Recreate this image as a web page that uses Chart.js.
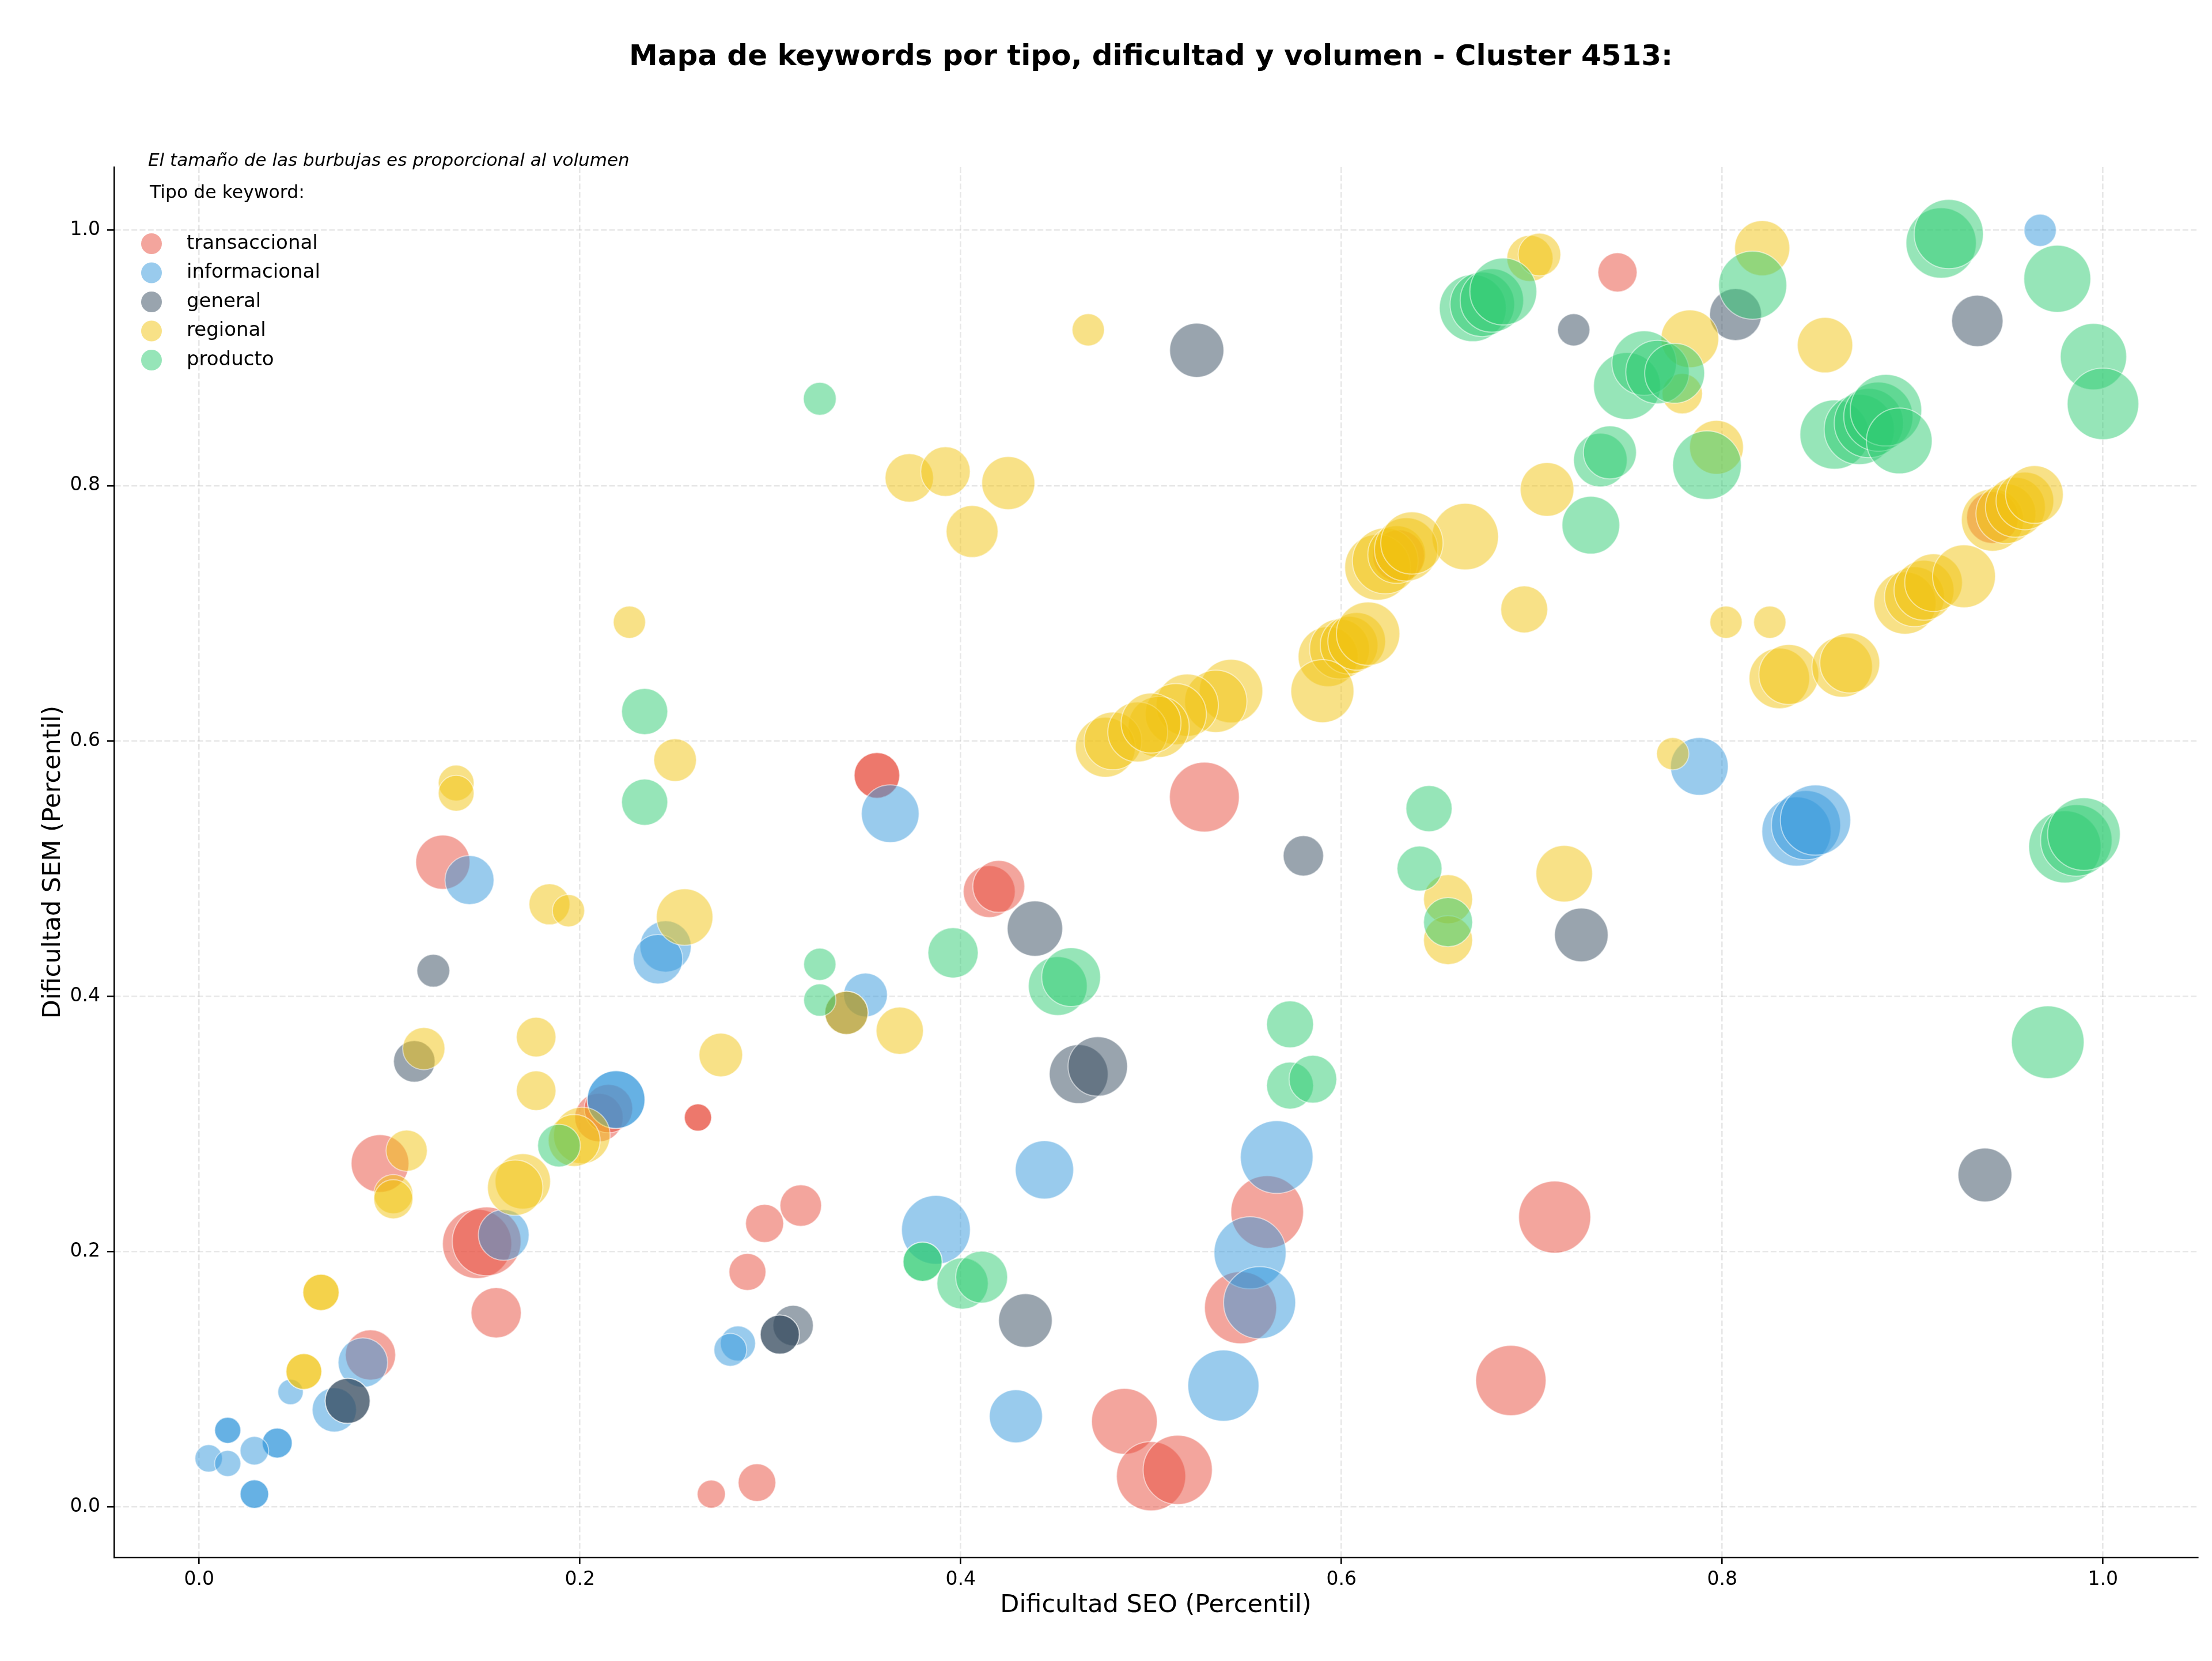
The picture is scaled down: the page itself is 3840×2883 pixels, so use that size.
<!DOCTYPE html>
<html>
<head>
<meta charset="utf-8">
<script src="https://cdn.jsdelivr.net/npm/chart.js@4.4.0/dist/chart.umd.min.js"></script>
<style>
  html, body { margin: 0; padding: 0; background: #fff; }
</style>
</head>
<body>
<canvas id="mapa" width="3840" height="2883"></canvas>
<script>
// Datos: dificultad SEO (x), dificultad SEM (y), volumen (tamano)
const tipos = ['transaccional', 'informacional', 'general', 'regional', 'producto'];
const ticksVal = [0, 0.2, 0.4, 0.6, 0.8, 1.0];

const transSeo = [0.745,0.128,0.095,0.090,0.146,0.151,0.156,0.210,0.215,0.262, 0.262,0.297,0.316,0.288,0.269,0.293,0.356,0.356,0.415,0.420, 0.528,0.561,0.547,0.486,0.500,0.514,0.712,0.689,0.630,0.942];
const transSem = [0.967,0.505,0.269,0.119,0.206,0.208,0.152,0.305,0.312,0.305, 0.305,0.222,0.236,0.184,0.010,0.019,0.573,0.573,0.482,0.486, 0.556,0.231,0.156,0.067,0.024,0.029,0.227,0.099,0.745,0.775];
const transVol = [128,245,278,211,400,395,211,196,196,62, 62,121,144,114,66,118,174,174,225,225, 407,441,434,361,400,400,434,413,225,225];

const infoSeo = [0.967,0.142,0.363,0.788,0.839,0.844,0.849,0.245,0.241,0.350, 0.219,0.219,0.160,0.086,0.048,0.071,0.015,0.015,0.041,0.041, 0.029,0.005,0.015,0.029,0.029,0.283,0.279,0.444,0.387,0.429, 0.566,0.552,0.557,0.538];
const infoSem = [1.000,0.491,0.543,0.580,0.529,0.534,0.538,0.439,0.429,0.401, 0.319,0.319,0.213,0.113,0.090,0.076,0.060,0.060,0.050,0.050, 0.044,0.038,0.034,0.010,0.010,0.128,0.123,0.264,0.217,0.071, 0.274,0.199,0.160,0.095];
const infoVol = [87,201,278,278,400,400,413,220,205,160, 278,278,215,205,54,164,57,57,75,75, 68,63,57,68,68,103,90,284,395,235, 441,434,434,423];

const genSeo = [0.524,0.722,0.807,0.934,0.123,0.113,0.078,0.078,0.340,0.439, 0.462,0.472,0.434,0.312,0.305,0.305,0.580,0.726,0.938];
const genSem = [0.906,0.922,0.934,0.929,0.420,0.349,0.083,0.083,0.387,0.453, 0.339,0.345,0.146,0.142,0.135,0.135,0.510,0.448,0.260];
const genVol = [245,87,225,221,90,144,169,169,156,256, 289,295,240,136,128,128,136,240,242];

const regSeo = [0.226,0.135,0.135,0.467,0.373,0.392,0.425,0.406,0.250,0.699, 0.704,0.783,0.779,0.797,0.708,0.665,0.696,0.619,0.623,0.629, 0.634,0.637,0.593,0.599,0.604,0.608,0.614,0.590,0.542,0.534, 0.519,0.513,0.504,0.476,0.480,0.493,0.500,0.717,0.656,0.656, 0.774,0.821,0.854,0.942,0.949,0.954,0.959,0.964,0.896,0.901, 0.906,0.911,0.927,0.802,0.825,0.830,0.835,0.863,0.867,0.184, 0.194,0.118,0.177,0.177,0.109,0.102,0.102,0.201,0.197,0.170, 0.166,0.064,0.064,0.055,0.055,0.255,0.368,0.274,0.340];
const regSem = [0.693,0.567,0.559,0.922,0.806,0.811,0.802,0.764,0.585,0.978, 0.981,0.915,0.872,0.830,0.797,0.760,0.703,0.736,0.741,0.746, 0.750,0.755,0.666,0.672,0.675,0.678,0.684,0.639,0.639,0.631, 0.628,0.621,0.611,0.595,0.600,0.607,0.614,0.496,0.476,0.444, 0.590,0.986,0.910,0.773,0.778,0.783,0.788,0.793,0.708,0.713, 0.718,0.724,0.729,0.693,0.693,0.649,0.652,0.658,0.661,0.472, 0.467,0.359,0.368,0.326,0.279,0.245,0.241,0.291,0.287,0.255, 0.250,0.168,0.168,0.106,0.106,0.462,0.373,0.354,0.387];
const regVol = [87,107,107,87,196,205,235,225,152,178, 152,278,136,242,240,369,184,361,361,278, 336,324,300,300,278,278,336,332,336,324, 324,312,312,300,278,300,300,267,201,201, 87,254,256,324,300,300,278,278,324,300, 300,278,330,87,87,306,300,306,300,140, 87,149,131,131,142,128,128,267,225,256, 256,110,110,107,107,267,187,159,156];

const prodSeo = [0.234,0.234,0.326,0.669,0.674,0.679,0.685,0.750,0.759,0.766, 0.775,0.736,0.741,0.792,0.731,0.646,0.641,0.656,0.573,0.573, 0.585,0.816,0.915,0.919,0.976,0.995,1.000,0.859,0.872,0.877, 0.882,0.886,0.893,0.980,0.986,0.990,0.971,0.326,0.326,0.396, 0.451,0.458,0.380,0.380,0.401,0.411,0.189];
const prodSem = [0.623,0.552,0.868,0.939,0.942,0.945,0.952,0.878,0.896,0.889, 0.888,0.820,0.826,0.816,0.769,0.547,0.500,0.458,0.378,0.330, 0.335,0.957,0.990,0.997,0.962,0.901,0.864,0.840,0.844,0.849, 0.854,0.859,0.835,0.517,0.522,0.527,0.364,0.425,0.397,0.434, 0.408,0.415,0.192,0.192,0.175,0.180,0.283];
const prodVol = [178,178,90,374,348,336,374,374,348,336, 300,240,235,393,278,178,169,201,184,184, 190,387,413,400,374,367,427,400,413,400, 400,427,361,437,427,441,441,87,87,211, 289,289,128,128,220,225,152];

const titulo = 'Mapa de keywords por tipo, dificultad y volumen - Cluster 4513:';
const nota = 'El tamaño de las burbujas es proporcional al volumen';

const colores = ['rgba(231,76,60,0.5)', 'rgba(52,152,219,0.5)', 'rgba(52,73,94,0.5)', 'rgba(241,196,15,0.5)', 'rgba(46,204,113,0.5)'];
const fuente = 'DejaVu Sans';

// radio en px ~ raiz del volumen (area proporcional al volumen)
function puntos(seo, sem, vol) {
  return seo.map((x, i) => ({ x: x, y: sem[i], r: 3 * Math.sqrt(vol[i]) }));
}

const series = [
  puntos(transSeo, transSem, transVol),
  puntos(infoSeo, infoSem, infoVol),
  puntos(genSeo, genSem, genVol),
  puntos(regSeo, regSem, regVol),
  puntos(prodSeo, prodSem, prodVol)
];

// titulo, nota y leyenda dibujados encima
const textos = {
  id: 'textos',
  afterDraw(chart) {
    const ctx = chart.ctx;
    ctx.save();
    ctx.fillStyle = '#000';
    ctx.textBaseline = 'middle';
    ctx.textAlign = 'center';
    ctx.font = 'bold 50px "' + fuente + '"';
    ctx.fillText(titulo, 1998, 100);
    ctx.textAlign = 'left';
    ctx.font = 'italic 31px "' + fuente + '"';
    ctx.fillText(nota, 257, 280);
    ctx.font = '31.5px "' + fuente + '"';
    ctx.fillText('Tipo de keyword:', 260, 336);
    ctx.font = '34px "' + fuente + '"';
    tipos.forEach((t, i) => {
      const y = 423 + i * 50.5;
      ctx.beginPath();
      ctx.arc(263, y, 18, 0, Math.PI * 2);
      ctx.fillStyle = colores[i];
      ctx.fill();
      ctx.fillStyle = '#000';
      ctx.fillText(t, 324, y);
    });
    ctx.restore();
  }
};

Chart.defaults.font.family = fuente;
Chart.defaults.color = '#000';

const ejeComun = {
  type: 'linear',
  afterBuildTicks: s => { s.ticks = ticksVal.map(v => ({ value: v })); },
  grid: {
    color: 'rgba(176,176,176,0.3)',
    lineWidth: 2.6,
    drawTicks: true,
    tickLength: 12,
    tickColor: '#000',
    tickWidth: 2.6
  },
  border: { display: true, color: '#000', width: 2.6, dash: [10, 4.3] }
};

new Chart(document.getElementById('mapa'), {
  type: 'bubble',
  data: {
    datasets: tipos.map((t, i) => ({
      label: t,
      data: series[i],
      backgroundColor: colores[i],
      borderColor: 'rgba(255,255,255,0.5)',
      borderWidth: 2,
      order: 5 - i
    }))
  },
  options: {
    responsive: false,
    devicePixelRatio: 1,
    animation: false,
    events: [],
    layout: { autoPadding: false, padding: { top: 290, right: 25, bottom: 0, left: 0 } },
    plugins: {
      legend: { display: false },
      title: { display: false },
      tooltip: { enabled: false }
    },
    scales: {
      x: Object.assign({}, ejeComun, {
        min: -0.0447,
        max: 1.0497,
        afterFit: s => { s.height = 180; },
        ticks: { callback: v => v.toFixed(1), font: { size: 33 }, padding: 8, maxRotation: 0 },
        title: { display: true, text: 'Dificultad SEO (Percentil)', font: { size: 43 }, padding: { top: 0, bottom: 70 } }
      }),
      y: Object.assign({}, ejeComun, {
        min: -0.0395,
        max: 1.0495,
        afterFit: s => { s.width = 198; },
        ticks: { callback: v => v.toFixed(1), font: { size: 33 }, padding: 12 },
        title: { display: true, text: 'Dificultad SEM (Percentil)', font: { size: 43 }, padding: { top: 67, bottom: 0 } }
      })
    }
  },
  plugins: [textos]
});
</script>
</body>
</html>
